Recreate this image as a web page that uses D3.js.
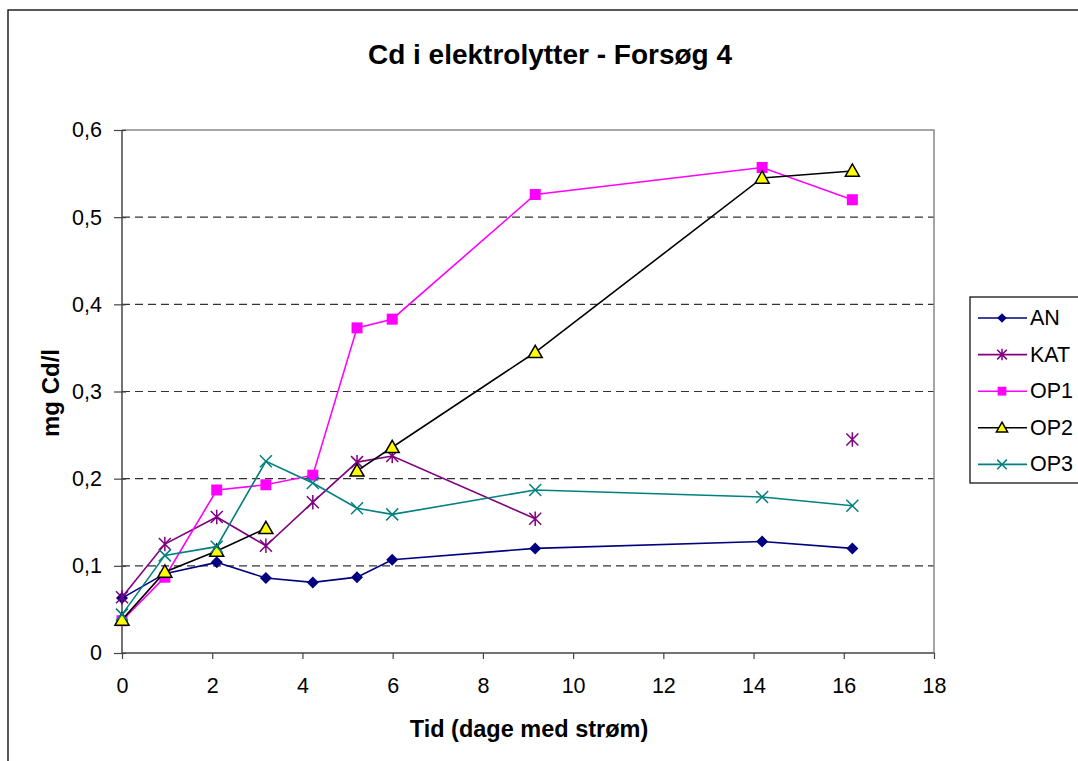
<!DOCTYPE html>
<html>
<head>
<meta charset="utf-8">
<script src="https://cdn.jsdelivr.net/npm/d3@7"></script>
<style>
  body { margin: 0; background: #fff; }
  svg text { font-family: Arial, "Liberation Sans", sans-serif; }
</style>
</head>
<body>
<div id="chart"></div>
<script>
// days with current
var days = [0, 0.95, 2.1, 3.19, 4.23, 5.21, 5.99, 9.16, 14.19, 16.19];

// mg Cd/l per series (null = no measurement)
var AN  = [0.063, 0.091, 0.104, 0.086, 0.081, 0.087, 0.107, 0.120, 0.128, 0.120];
var KAT = [0.064, 0.125, 0.156, 0.123, 0.173, 0.219, 0.226, 0.154, null, 0.245];
var OP1 = [0.037, 0.087, 0.187, 0.193, 0.204, 0.373, 0.383, 0.526, 0.557, 0.520];
var OP2 = [0.038, 0.093, 0.117, 0.143, null, 0.209, 0.236, 0.345, 0.545, 0.553];
var OP3 = [0.044, 0.112, 0.122, 0.220, 0.195, 0.166, 0.159, 0.187, 0.179, 0.169];

var xTicks = [0, 2, 4, 6, 8, 10, 12, 14, 16, 18];
var yTicks = [0, 0.1, 0.2, 0.3, 0.4, 0.5, 0.6];

var seriesNames = ["AN", "KAT", "OP1", "OP2", "OP3"];
var seriesVals = [AN, KAT, OP1, OP2, OP3];
var seriesColor = ["#000080", "#800080", "#ff00ff", "#000000", "#008080"];
var seriesMarker = ["diamond", "star", "square", "triangle", "x"];

var W = 1078, H = 761;
var pLeft = 122, pRight = 934, pTop = 130, pBottom = 653;

var svg = d3.select("#chart").append("svg")
  .attr("width", W).attr("height", H);

// outer chart border (only left and top visible)
svg.append("rect")
  .attr("x", 8).attr("y", 10)
  .attr("width", W + 20).attr("height", H + 20)
  .attr("fill", "#fff").attr("stroke", "#000").attr("stroke-width", 1.3);

var x = d3.scaleLinear().domain([0, 18]).range([pLeft, pRight]);
var y = d3.scaleLinear().domain([0, 0.6]).range([pBottom, pTop]);

// gridlines
svg.append("g").selectAll("line")
  .data(yTicks.filter(function(d) { return d > 0 && d < 0.6; }))
  .enter().append("line")
  .attr("x1", pLeft).attr("x2", pRight)
  .attr("y1", function(d) { return y(d); })
  .attr("y2", function(d) { return y(d); })
  .attr("stroke", "#333").attr("stroke-width", 1.2)
  .attr("stroke-dasharray", "8,5");

// plot border top/right
svg.append("path")
  .attr("d", "M" + pLeft + "," + pTop + "H" + pRight + "V" + pBottom)
  .attr("fill", "none").attr("stroke", "#888").attr("stroke-width", 1.5);

// axes
var fmt = function(d) { return d === 0 ? "0" : d3.format(".1f")(d).replace(".", ","); };
var yAxis = d3.axisLeft(y).tickValues(yTicks).tickFormat(fmt).tickSize(8).tickPadding(12);
var xAxis = d3.axisBottom(x).tickValues(xTicks).tickFormat(d3.format("d")).tickSize(6).tickPadding(19);

var gy = svg.append("g").attr("transform", "translate(" + pLeft + ",0)").call(yAxis);
var gx = svg.append("g").attr("transform", "translate(0," + pBottom + ")").call(xAxis);
[gx, gy].forEach(function(g) {
  g.select(".domain").attr("stroke", "#444").attr("stroke-width", 1.5);
  g.selectAll(".tick line").attr("stroke", "#444").attr("stroke-width", 1.2);
  g.selectAll("text").attr("font-size", 21.5).attr("fill", "#000")
    .style("font-family", "Arial, 'Liberation Sans', sans-serif");
});
gy.selectAll(".tick line").attr("x2", -8).attr("x1", 4);
gy.select(".domain").attr("d", "M0," + pBottom + "V" + pTop);
gx.select(".domain").attr("d", "M" + pLeft + ",0H" + pRight);

// marker drawing
function drawMarker(g, type, color, cx, cy, s) {
  s = s || 1;
  if (type === "diamond") {
    var r = 6 * s;
    g.append("path").attr("d", "M" + cx + "," + (cy - r) + "L" + (cx + r) + "," + cy + "L" + cx + "," + (cy + r) + "L" + (cx - r) + "," + cy + "Z")
      .attr("fill", color);
  } else if (type === "square") {
    var h = 5.5 * s;
    g.append("rect").attr("x", cx - h).attr("y", cy - h).attr("width", 2 * h).attr("height", 2 * h).attr("fill", color);
  } else if (type === "triangle") {
    var t = 7 * s;
    g.append("path").attr("d", "M" + cx + "," + (cy - t) + "L" + (cx + t) + "," + (cy + t * 0.75) + "L" + (cx - t) + "," + (cy + t * 0.75) + "Z")
      .attr("fill", "#ffff00").attr("stroke", "#000").attr("stroke-width", 1.5);
  } else if (type === "x") {
    var a = 6 * s;
    g.append("path").attr("d", "M" + (cx - a) + "," + (cy - a) + "L" + (cx + a) + "," + (cy + a) + "M" + (cx - a) + "," + (cy + a) + "L" + (cx + a) + "," + (cy - a))
      .attr("stroke", color).attr("stroke-width", 1.5);
  } else if (type === "star") {
    var b = 6 * s;
    g.append("path").attr("d", "M" + (cx - b) + "," + (cy - b) + "L" + (cx + b) + "," + (cy + b) + "M" + (cx - b) + "," + (cy + b) + "L" + (cx + b) + "," + (cy - b) + "M" + cx + "," + (cy - b * 1.2) + "V" + (cy + b * 1.2))
      .attr("stroke", color).attr("stroke-width", 1.5);
  }
}

var line = d3.line()
  .defined(function(d) { return d.v !== null; })
  .x(function(d) { return x(d.t); })
  .y(function(d) { return y(d.v); });

seriesNames.forEach(function(name, i) {
  var pts = days.map(function(t, j) { return { t: t, v: seriesVals[i][j] }; });
  var g = svg.append("g").attr("class", "series " + name);
  g.append("path").datum(pts).attr("d", line)
    .attr("fill", "none").attr("stroke", seriesColor[i]).attr("stroke-width", 1.6);
  pts.forEach(function(p) {
    if (p.v !== null) drawMarker(g, seriesMarker[i], seriesColor[i], x(p.t), y(p.v));
  });
});

// titles
svg.append("text").attr("x", 550).attr("y", 64).attr("text-anchor", "middle")
  .attr("font-size", 28).attr("font-weight", "bold").text("Cd i elektrolytter - Forsøg 4");
svg.append("text").attr("x", 529).attr("y", 737).attr("text-anchor", "middle")
  .attr("font-size", 23.5).attr("font-weight", "bold").text("Tid (dage med strøm)");
svg.append("text").attr("transform", "translate(59,393) rotate(-90)").attr("text-anchor", "middle")
  .attr("font-size", 24).attr("font-weight", "bold").text("mg Cd/l");

// legend
var lg = svg.append("g");
lg.append("rect").attr("x", 970).attr("y", 297).attr("width", 130).attr("height", 186)
  .attr("fill", "#fff").attr("stroke", "#000").attr("stroke-width", 1.2);
seriesNames.forEach(function(name, i) {
  var ly = 318 + i * 36.6;
  lg.append("line").attr("x1", 978).attr("x2", 1027).attr("y1", ly).attr("y2", ly)
    .attr("stroke", seriesColor[i]).attr("stroke-width", 1.6);
  drawMarker(lg, seriesMarker[i], seriesColor[i], 1002, ly, 0.8);
  lg.append("text").attr("x", 1030).attr("y", ly + 7).attr("font-size", 21.5).text(name);
});
</script>
</body>
</html>
